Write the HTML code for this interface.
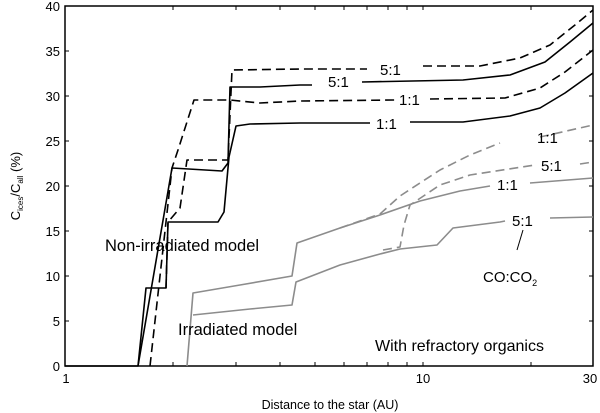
<!DOCTYPE html>
<html><head><meta charset="utf-8"><style>
html,body{margin:0;padding:0;background:#fff;}
svg{display:block;font-family:"Liberation Sans",sans-serif;}
</style></head><body>
<svg width="600" height="413" viewBox="0 0 600 413" xmlns="http://www.w3.org/2000/svg">
<rect x="65" y="6" width="528" height="360" fill="none" stroke="#000" stroke-width="1.5"/>
<g stroke="#000" stroke-width="1">
<!-- y ticks -->
<path d="M65 321h4M65 276h4M65 231h4M65 186h4M65 141h4M65 96h4M65 51h4M593 321h-4M593 276h-4M593 231h-4M593 186h-4M593 141h-4M593 96h-4M593 51h-4"/>
<!-- x ticks: 2..9, 20 -->
<path d="M173 366v-4M236 366v-4M280 366v-4M315 366v-4M344 366v-4M367 366v-4M388 366v-4M407 366v-4M423 366v-4M531 366v-4
M173 6v4M236 6v4M280 6v4M315 6v4M344 6v4M367 6v4M388 6v4M407 6v4M423 6v4M531 6v4"/>
</g>
<g font-size="13" fill="#000" text-anchor="end">
<text x="60" y="371">0</text><text x="60" y="326">5</text><text x="60" y="281">10</text><text x="60" y="236">15</text>
<text x="60" y="191">20</text><text x="60" y="146">25</text><text x="60" y="101">30</text><text x="60" y="56">35</text><text x="60" y="11">40</text>
</g>
<g font-size="13" fill="#000" text-anchor="middle">
<text x="66" y="383">1</text><text x="423" y="383">10</text><text x="590" y="383">30</text>
<text x="330" y="409" font-size="12.5">Distance to the star  (AU)</text>
</g>
<text transform="translate(20,186) rotate(-90)" font-size="13" text-anchor="middle">C<tspan font-size="8" dy="3">ices</tspan><tspan dy="-3">/C</tspan><tspan font-size="8" dy="3">all</tspan><tspan dy="-3">  (%)</tspan></text>

<g fill="none" stroke-width="1.6" stroke-linejoin="round">
<!-- black solid A (1:1) -->
<polyline stroke="#000" points="65,366 138,366 146,288 166,288 168,222 218,222 224,212 229,157 236,126 250,124 300,123 370,123"/>
<polyline stroke="#000" points="410,122 463,122 510,116 540,108 565,93 593,73"/>
<!-- black solid B (5:1) -->
<polyline stroke="#000" points="138,366 172,168 222,171 228,163 230,87 260,87 300,85 312,85"/>
<polyline stroke="#000" points="362,82 463,80 510,75 545,62 570,42 593,23"/>
<!-- black dashed D (1:1) -->
<polyline stroke="#000" stroke-dasharray="9,5" points="150,366 172,168 178,150 194,100 230,100 260,103 300,101 395,100"/>
<polyline stroke="#000" stroke-dasharray="9,5" points="430,99 505,98 540,88 565,72 593,50"/>
<!-- black dashed E (5:1) -->
<polyline stroke="#000" stroke-dasharray="9,5" points="166,288 168,222 180,208 187,160 228,160 232,70 300,69 367,69"/>
<polyline stroke="#000" stroke-dasharray="9,5" points="423,66 480,66 520,58 550,45 575,25 593,10"/>
<!-- gray solid F (1:1) -->
<polyline stroke="#8c8c8c" points="187,366 193,293 240,285 292,276 297,243 340,228 380,215 420,201 460,191 490,186"/>
<polyline stroke="#8c8c8c" points="530,183 593,178"/>
<!-- gray solid H (5:1) -->
<polyline stroke="#8c8c8c" points="193,315 250,309 292,305 296,282 340,265 380,254 400,249 437,245 453,228 500,222 505,221"/>
<polyline stroke="#8c8c8c" points="550,218 593,217"/>
<!-- gray dashed J (1:1) -->
<polyline stroke="#8c8c8c" stroke-dasharray="9,5" points="340,228 380,214 400,196 440,170 470,155 500,143"/>
<polyline stroke="#8c8c8c" stroke-dasharray="9,5" points="540,137 593,125"/>
<!-- gray dashed I (5:1) -->
<polyline stroke="#8c8c8c" stroke-dasharray="9,5" points="383,250 400,247 404,225 410,205 440,185 470,175 535,165"/>
<polyline stroke="#8c8c8c" stroke-dasharray="9,5" points="580,164 593,162"/>
<line x1="523" y1="230" x2="517" y2="250" stroke="#000" stroke-width="1"/>
</g>

<g font-size="15" fill="#000">
<text x="380" y="75">5:1</text>
<text x="328" y="87">5:1</text>
<text x="399" y="105">1:1</text>
<text x="376" y="129">1:1</text>
</g>
<g font-size="15" fill="#000">
<text x="537" y="143">1:1</text>
<text x="541" y="171">5:1</text>
<text x="497" y="190">1:1</text>
<text x="512" y="226">5:1</text>
<text x="483" y="282">CO:CO<tspan font-size="9" dy="4">2</tspan></text>
<text x="105" y="251" font-size="16.5">Non-irradiated  model</text>
<text x="178" y="335" font-size="16.5">Irradiated  model</text>
<text x="375" y="351" font-size="16">With refractory organics</text>
</g>
</svg>
</body></html>
